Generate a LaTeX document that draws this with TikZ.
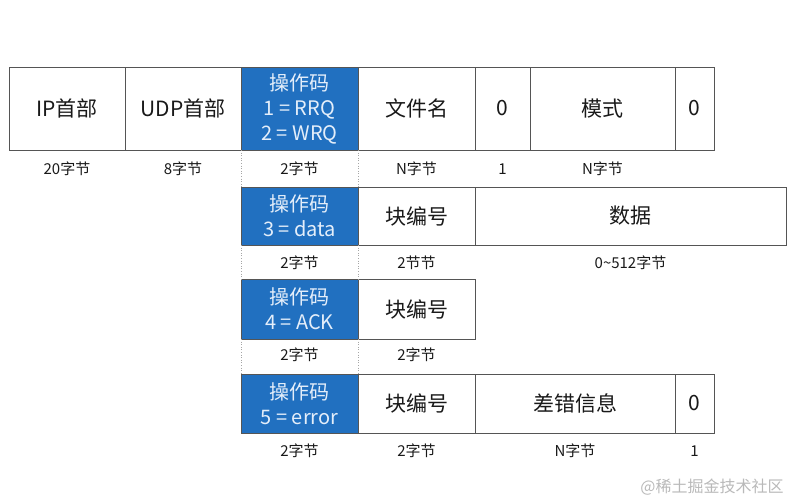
\documentclass[tikz,border=0pt]{standalone}
\usepackage{fontspec}
\setmainfont{Noto Sans CJK SC}
\usetikzlibrary{positioning}

\definecolor{opblue}{RGB}{33,112,192}
\definecolor{optext}{RGB}{228,238,250}
\definecolor{edge}{RGB}{85,85,85}
\definecolor{ink}{RGB}{25,25,25}

\tikzset{
    cell/.style = {draw=edge, line width=0.9pt, fill=white, inner sep=0pt, outer sep=0pt,
                   text=ink, font=\fontsize{21}{24}\selectfont},
    opcell/.style = {cell, fill=opblue, text=optext, align=center,
                     font=\fontsize{20}{25}\selectfont},
    size/.style = {text=ink, inner sep=0pt, font=\fontsize{15}{17}\selectfont},
    guide/.style = {draw=gray!70, dotted, line width=0.6pt}
}

\begin{document}
\begin{tikzpicture}[x=1pt, y=-1pt]
    \useasboundingbox (0,0) rectangle (796,500);

    % read / write request
    \node[cell, minimum width=116, minimum height=83] (ip) at (67,108.5) {IP首部};
    \node[cell, minimum width=116, minimum height=83, right=0pt of ip] (udp) {UDP首部};
    \node[opcell, minimum width=117, minimum height=83, right=0pt of udp] (opA) {操作码\\1 = RRQ\\2 = WRQ};
    \node[cell, minimum width=117, minimum height=83, right=0pt of opA] (fname) {文件名};
    \node[cell, minimum width=55, minimum height=83, right=0pt of fname] (zeroA) {0};
    \node[cell, minimum width=145, minimum height=83, right=0pt of zeroA] (mode) {模式};
    \node[cell, minimum width=39, minimum height=83, right=0pt of mode] (zeroB) {0};

    \node[size] (ipS) at ([yshift=-19pt]ip.south) {20字节};
    \node[size] (udpS) at ([yshift=-19pt]udp.south) {8字节};
    \node[size] (opAS) at ([yshift=-19pt]opA.south) {2字节};
    \node[size] (fnameS) at ([yshift=-19pt]fname.south) {N字节};
    \node[size] (zeroAS) at ([yshift=-19pt]zeroA.south) {1};
    \node[size] (modeS) at ([yshift=-19pt]mode.south) {N字节};

    % data
    \node[opcell, minimum width=117, minimum height=58] (opB) at (299.5,216) {操作码\\3 = data};
    \node[cell, minimum width=117, minimum height=58, right=0pt of opB] (blkB) {块编号};
    \node[cell, minimum width=311, minimum height=58, right=0pt of blkB] (data) {数据};

    \node[size] (opBS) at ([yshift=-18pt]opB.south) {2字节};
    \node[size] (blkBS) at ([yshift=-18pt]blkB.south) {2节节};
    \node[size] (dataS) at ([yshift=-18pt]data.south) {0\textasciitilde 512字节};

    % ack
    \node[opcell, minimum width=117, minimum height=60] (opC) at (299.5,309) {操作码\\4 = ACK};
    \node[cell, minimum width=117, minimum height=60, right=0pt of opC] (blkC) {块编号};

    \node[size] (opCS) at ([yshift=-16pt]opC.south) {2字节};
    \node[size] (blkCS) at ([yshift=-16pt]blkC.south) {2字节};

    % error
    \node[opcell, minimum width=117, minimum height=59] (opD) at (299.5,403.5) {操作码\\5 = error};
    \node[cell, minimum width=117, minimum height=59, right=0pt of opD] (blkD) {块编号};
    \node[cell, minimum width=200, minimum height=59, right=0pt of blkD] (msg) {差错信息};
    \node[cell, minimum width=39, minimum height=59, right=0pt of msg] (zeroD) {0};

    \node[size] (opDS) at ([yshift=-18pt]opD.south) {2字节};
    \node[size] (blkDS) at ([yshift=-18pt]blkD.south) {2字节};
    \node[size] (msgS) at ([yshift=-18pt]msg.south) {N字节};
    \node[size] (zeroDS) at ([yshift=-18pt]zeroD.south) {1};

    % dotted guides between the rows
    \draw[guide] (opA.south west) -- (opB.north west);
    \draw[guide] (opA.south east) -- (opB.north east);
    \draw[guide] (opB.south west) -- (opC.north west);
    \draw[guide] (opB.south east) -- (opC.north east);
    \draw[guide] (opC.south west) -- (opD.north west);
    \draw[guide] (opC.south east) -- (opD.north east);

    \node[text=gray!55, inner sep=0pt, font=\fontsize{16}{18}\selectfont] (mark) at (712,487) {@稀土掘金技术社区};
\end{tikzpicture}
\end{document}
